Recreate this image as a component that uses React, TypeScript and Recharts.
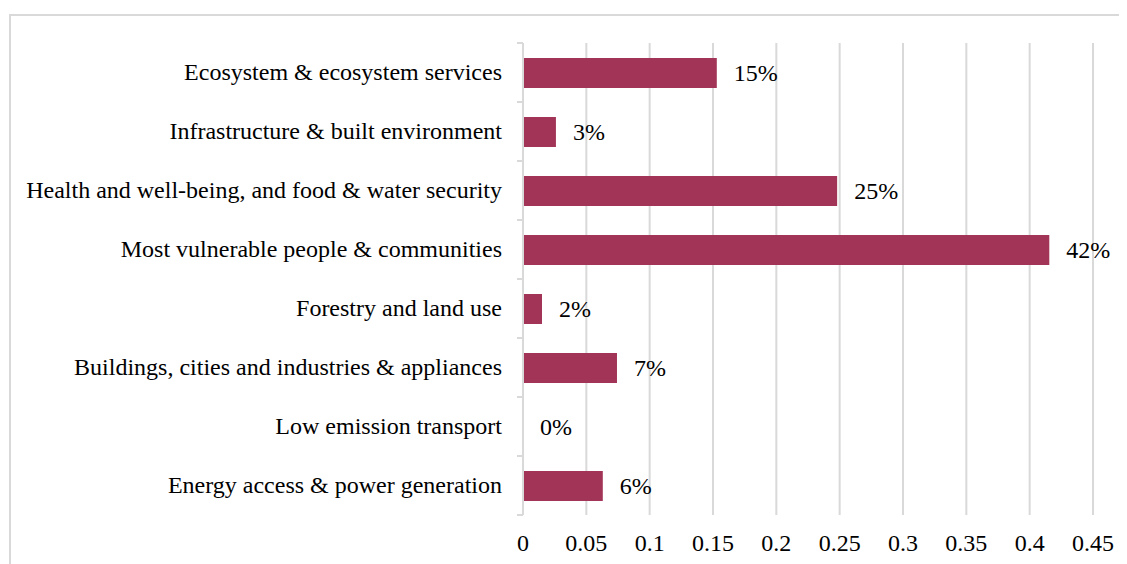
import React from 'react';
import { BarChart, Bar, XAxis, YAxis, CartesianGrid, LabelList } from 'recharts';

const categories = [
  'Ecosystem & ecosystem services',
  'Infrastructure & built environment',
  'Health and well-being, and food & water security',
  'Most vulnerable people & communities',
  'Forestry and land use',
  'Buildings, cities and industries & appliances',
  'Low emission transport',
  'Energy access & power generation',
];
const shares = [0.153, 0.026, 0.248, 0.4155, 0.015, 0.0742, 0, 0.063];
const xTicks = [0, 0.05, 0.1, 0.15, 0.2, 0.25, 0.3, 0.35, 0.4, 0.45];

const data = categories.map((name, i) => ({ name, value: shares[i] }));

const FONT = "'Liberation Serif', 'Times New Roman', serif";
const GRID = '#D9D9D9';
const BAR = '#A13457';
const textStyle = { fontFamily: FONT, fontSize: 24, fill: '#000' };

const YTick = (props: any) => {
  const { x, y, payload, index, visibleTicksCount } = props;
  const half = payload && payload.offset ? payload.offset : 29.5;
  const axisX = x + 8;
  const isLast = index === (visibleTicksCount ?? categories.length) - 1;
  return (
    <g>
      <line x1={axisX - 6} x2={axisX} y1={y - half} y2={y - half} stroke={GRID} strokeWidth={2} />
      {isLast && (
        <line x1={axisX - 6} x2={axisX} y1={y + half} y2={y + half} stroke={GRID} strokeWidth={2} />
      )}
      <text x={axisX - 21} y={y} dy="0.33em" textAnchor="end" style={textStyle}>
        {payload.value}
      </text>
    </g>
  );
};

const XTick = (props: any) => {
  const { x, y, payload } = props;
  return (
    <text x={x} y={y} dy="0.71em" textAnchor="middle" style={textStyle}>
      {payload.value}
    </text>
  );
};

const BarLabel = (props: any) => {
  const { x, y, width, height, value } = props;
  return (
    <text x={Number(x) + Number(width || 0) + 17} y={Number(y) + Number(height) / 2} dy="0.35em" textAnchor="start" style={textStyle}>
      {`${Math.round(Number(value) * 100)}%`}
    </text>
  );
};

export default function App() {
  return (
    <div style={{ position: 'relative', width: 1127, height: 564, margin: '-8px 0 0 -8px', background: '#fff' }}>
      <div
        style={{
          position: 'absolute',
          left: 9,
          top: 14,
          width: 1140,
          height: 570,
          border: `2px solid ${GRID}`,
          boxSizing: 'border-box',
        }}
      />
      <div style={{ position: 'absolute', left: 0, top: 0 }}>
        <BarChart
          width={1127}
          height={564}
          data={data}
          layout="vertical"
          margin={{ top: 43, right: 34, bottom: 0, left: 0 }}
        >
          <CartesianGrid horizontal={false} vertical={true} stroke={GRID} strokeWidth={2} />
          <XAxis
            type="number"
            domain={[0, 0.45]}
            ticks={xTicks}
            axisLine={false}
            tickLine={false}
            height={49}
            tickMargin={13}
            interval={0}
            tick={<XTick />}
          />
          <YAxis
            type="category"
            dataKey="name"
            width={523}
            axisLine={{ stroke: GRID, strokeWidth: 2 }}
            tickLine={false}
            interval={0}
            tick={<YTick />}
          />
          <Bar
            dataKey="value"
            fill={BAR}
            barSize={30}
            minPointSize={(v: any) => (Number(v) === 0 ? 0.01 : 0)}
            isAnimationActive={false}
          >
            <LabelList dataKey="value" content={<BarLabel />} />
          </Bar>
        </BarChart>
      </div>
    </div>
  );
}
